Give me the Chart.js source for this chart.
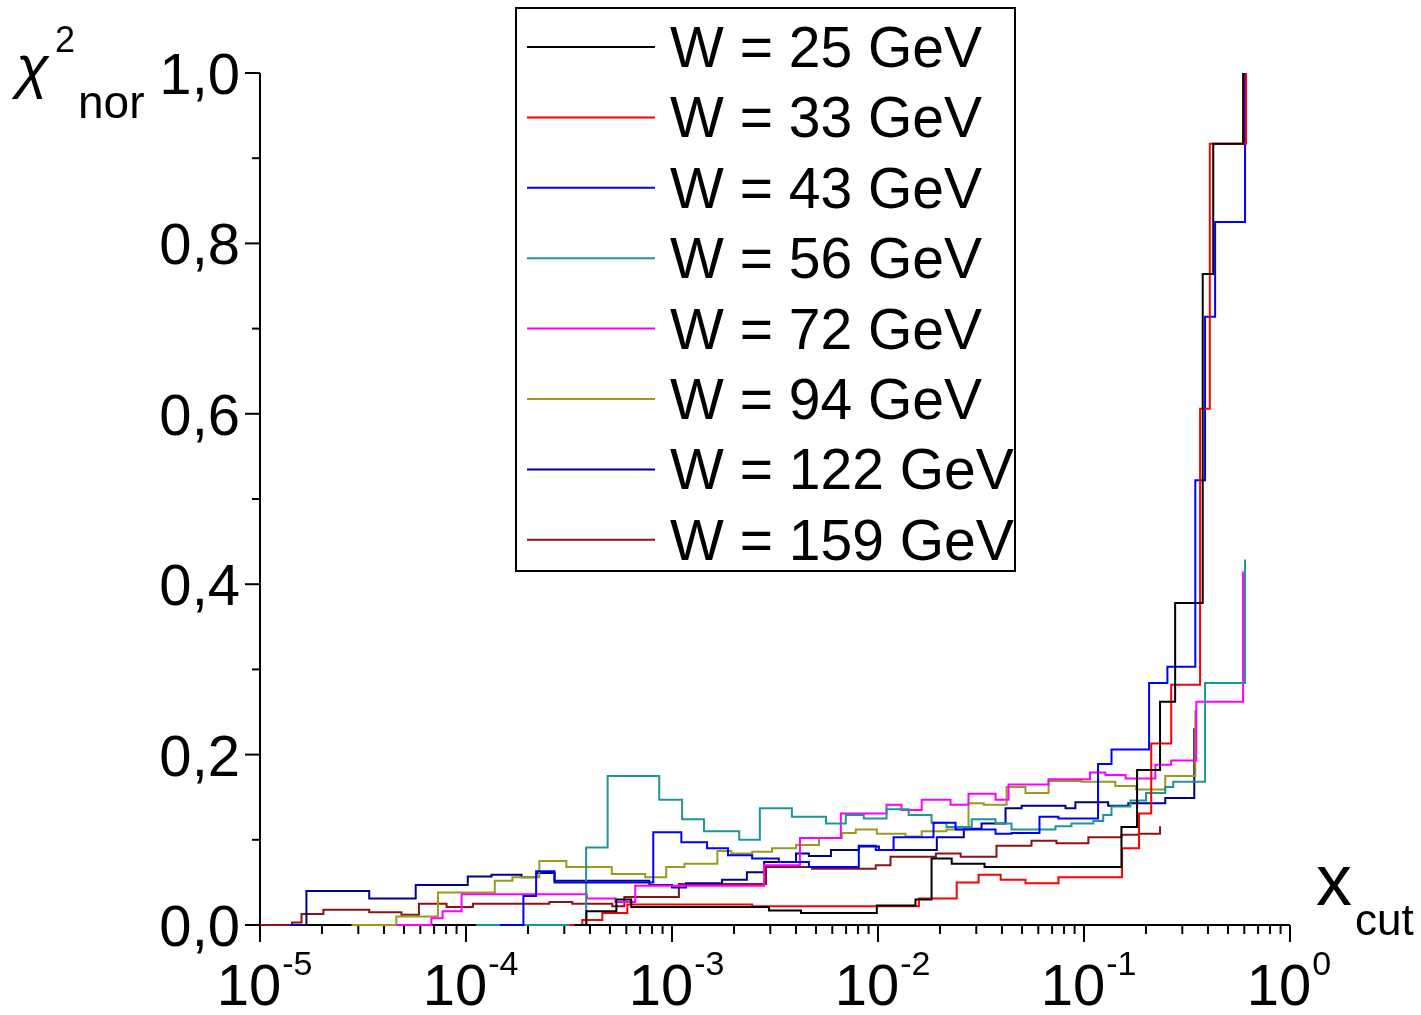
<!DOCTYPE html>
<html>
<head>
<meta charset="utf-8">
<script src="https://cdn.jsdelivr.net/npm/chart.js@4.4.1/dist/chart.umd.min.js"></script>
<style>
  html, body { margin: 0; padding: 0; background: #fff; }
  canvas { display: block; }
</style>
</head>
<body>
<canvas id="chart" width="1421" height="1015"></canvas>
<script>
// series labels + colours
const seriesLabels = ["W = 25 GeV", "W = 33 GeV", "W = 43 GeV", "W = 56 GeV",
                      "W = 72 GeV", "W = 94 GeV", "W = 122 GeV", "W = 159 GeV"];
const seriesColors = ["#000000", "#ff0000", "#0000ff", "#1f9696",
                      "#ff00ff", "#9a9a1c", "#000090", "#8a1414"];

// step data: x_cut = left edge of each step, chi2 = level of the step
const xcutW25 = [3.36e-4, 3.84e-4, 5.37e-4, 6.34e-4, 2.96e-3, 4.23e-3, 9.87e-3, 1.52e-2, 1.82e-2,
                 2.28e-2, 3.29e-2, 0.152, 0.181, 0.234, 0.277, 0.377, 0.424, 0.592];
const chiW25  = [0, 0.016, 0.030, 0.021, 0.017, 0.014, 0.023, 0.030, 0.078,
                 0.072, 0.068, 0.115, 0.182, 0.262, 0.378, 0.764, 0.917, 1.0];

const xcutW33 = [3.18e-4, 3.67e-4, 4.59e-4, 6.07e-4, 2.45e-3, 1.58e-2, 2.41e-2, 3.08e-2, 3.94e-2,
                 5.20e-2, 7.52e-2, 0.153, 0.185, 0.212, 0.265, 0.366, 0.408, 0.612];
const chiW33  = [0, 0.006, 0.014, 0.024, 0.022, 0.031, 0.050, 0.059, 0.053,
                 0.049, 0.056, 0.090, 0.131, 0.213, 0.282, 0.606, 0.917, 1.0];

const xcutW43 = [1.46e-4, 1.90e-4, 2.19e-4, 2.69e-4, 8.11e-4, 1.11e-3, 1.48e-3, 1.87e-3, 2.45e-3,
                 3.30e-3, 4.62e-3, 8.07e-3, 9.75e-3, 1.19e-2, 1.86e-2, 2.38e-2, 3.72e-2, 4.45e-2,
                 6.08e-2, 7.52e-2, 0.117, 0.136, 0.207, 0.254, 0.347, 0.387, 0.433, 0.605];
const chiW43  = [0, 0.034, 0.063, 0.050, 0.109, 0.097, 0.090, 0.082, 0.078,
                 0.074, 0.068, 0.093, 0.088, 0.103, 0.120, 0.112, 0.107, 0.108,
                 0.127, 0.125, 0.189, 0.206, 0.284, 0.303, 0.522, 0.714, 0.825, 1.0];

const xcutW56 = [1.12e-4, 3.83e-4, 4.87e-4, 8.67e-4, 1.12e-3, 1.43e-3, 2.12e-3, 2.67e-3, 3.82e-3,
                 5.59e-3, 6.98e-3, 8.53e-3, 1.10e-2, 1.41e-2, 1.82e-2, 2.15e-2, 2.85e-2, 3.72e-2,
                 4.45e-2, 7.27e-2, 8.69e-2, 0.111, 0.124, 0.136, 0.168, 0.200, 0.248, 0.271,
                 0.387, 0.605];
const chiW56  = [0, 0.091, 0.175, 0.147, 0.124, 0.110, 0.100, 0.137, 0.127,
                 0.119, 0.129, 0.125, 0.136, 0.129, 0.120, 0.115, 0.124, 0.119,
                 0.112, 0.116, 0.119, 0.122, 0.129, 0.139, 0.146, 0.155, 0.162, 0.168,
                 0.284, 0.429];

const xcutW72 = [4.59e-5, 6.79e-5, 7.70e-5, 9.52e-5, 3.86e-4, 5.31e-4, 6.63e-4, 2.80e-3, 4.18e-3,
                 6.60e-3, 1.10e-2, 1.30e-2, 1.63e-2, 2.25e-2, 2.75e-2, 3.72e-2, 4.30e-2, 6.73e-2,
                 0.107, 0.127, 0.159, 0.222, 0.265, 0.351, 0.592];
const chiW72  = [0, 0.008, 0.016, 0.036, 0.031, 0.027, 0.046, 0.070, 0.102,
                 0.131, 0.141, 0.135, 0.147, 0.141, 0.154, 0.147, 0.165, 0.171,
                 0.179, 0.176, 0.172, 0.188, 0.193, 0.262, 0.415];

const xcutW94 = [2.78e-5, 4.59e-5, 7.31e-5, 1.38e-4, 1.68e-4, 2.27e-4, 3.07e-4, 5.10e-4, 7.41e-4,
                 9.37e-4, 1.15e-3, 1.66e-3, 1.94e-3, 2.45e-3, 3.06e-3, 4.00e-3, 5.17e-3, 6.68e-3,
                 7.80e-3, 9.87e-3, 1.36e-2, 1.63e-2, 2.15e-2, 2.75e-2, 3.26e-2, 4.21e-2, 5.20e-2,
                 6.73e-2, 9.71e-2, 0.142, 0.179, 0.248, 0.347];
const chiW94  = [0, 0.010, 0.038, 0.052, 0.056, 0.075, 0.068, 0.060, 0.056,
                 0.068, 0.072, 0.087, 0.084, 0.086, 0.090, 0.094, 0.102, 0.108,
                 0.112, 0.107, 0.104, 0.110, 0.112, 0.143, 0.141, 0.162, 0.155,
                 0.169, 0.168, 0.163, 0.159, 0.175, 0.252];

const xcutW122 = [1.40e-5, 1.68e-5, 3.39e-5, 5.70e-5, 1.02e-4, 1.33e-4, 1.86e-4, 2.20e-4, 2.69e-4,
                  7.76e-4, 1.00e-3, 1.17e-3, 1.75e-3, 2.31e-3, 2.80e-3, 4.00e-3, 4.62e-3, 5.91e-3,
                  8.07e-3, 1.01e-2, 1.93e-2, 2.61e-2, 3.18e-2, 4.16e-2, 4.98e-2, 8.13e-2, 9.08e-2,
                  0.131, 0.164, 0.248, 0.343];
const chiW122  = [0, 0.040, 0.031, 0.047, 0.057, 0.059, 0.056, 0.061, 0.052,
                  0.047, 0.044, 0.049, 0.053, 0.062, 0.074, 0.084, 0.081, 0.088,
                  0.092, 0.088, 0.103, 0.113, 0.119, 0.137, 0.140, 0.137, 0.144,
                  0.140, 0.143, 0.149, 0.231];

const xcutW159 = [1.0e-5, 1.43e-5, 1.59e-5, 2.03e-5, 3.39e-5, 4.86e-5, 5.91e-5, 8.05e-5, 1.08e-4,
                  2.54e-4, 3.28e-4, 5.13e-4, 5.87e-4, 1.08e-3, 2.86e-3, 4.78e-3, 9.75e-3, 1.15e-2,
                  1.91e-2, 2.52e-2, 3.76e-2, 5.56e-2, 7.35e-2, 0.105, 0.152, 0.184, 0.234];
const chiW159  = [0, 0.003, 0.013, 0.018, 0.015, 0.012, 0.025, 0.021, 0.025,
                  0.027, 0.025, 0.022, 0.033, 0.048, 0.068, 0.066, 0.070, 0.080,
                  0.084, 0.080, 0.093, 0.099, 0.096, 0.103, 0.106, 0.107, 0.116];

// axis ticks
const xDecades = [-5, -4, -3, -2, -1, 0];
const yTicks = [0, 0.1, 0.2, 0.3, 0.4, 0.5, 0.6, 0.7, 0.8, 0.9, 1.0];
const yLabels = [0, 0.2, 0.4, 0.6, 0.8, 1.0];

const xcutAll = [xcutW25, xcutW33, xcutW43, xcutW56, xcutW72, xcutW94, xcutW122, xcutW159];
const chiAll = [chiW25, chiW33, chiW43, chiW56, chiW72, chiW94, chiW122, chiW159];

const FONT = '"Liberation Sans", Arial, sans-serif';

// level holds from its x_cut to the next one, so the line goes across then up
const datasets = seriesLabels.map((label, i) => ({
  label: label,
  data: xcutAll[i].map((x, j) => ({ x: x, y: chiAll[i][j] })),
  borderColor: seriesColors[i],
  backgroundColor: seriesColors[i],
  borderWidth: 2,
  pointRadius: 0,
  stepped: "before",
  fill: false,
  clip: 6
}));

// axes, ticks and tick labels
const axesPlugin = {
  id: "axes",
  beforeDatasetsDraw(chart) {
    const ctx = chart.ctx;
    const ca = chart.chartArea;
    const xs = chart.scales.x, ys = chart.scales.y;
    ctx.save();
    ctx.strokeStyle = "#000";
    ctx.lineWidth = 2;
    ctx.beginPath();
    ctx.moveTo(ca.left, ca.top);
    ctx.lineTo(ca.left, ca.bottom);
    ctx.lineTo(ca.right, ca.bottom);
    ctx.stroke();

    // y ticks
    yTicks.forEach((v, i) => {
      const p = ys.getPixelForValue(v);
      const len = i % 2 === 0 ? 15 : 8;
      ctx.beginPath();
      ctx.moveTo(ca.left - len, p);
      ctx.lineTo(ca.left, p);
      ctx.stroke();
    });
    // x ticks
    xDecades.forEach(d => {
      for (let m = 1; m <= 9; m++) {
        if (d === 0 && m > 1) break;
        const p = xs.getPixelForValue(m * Math.pow(10, d));
        const len = m === 1 ? 17 : 9;
        ctx.beginPath();
        ctx.moveTo(p, ca.bottom);
        ctx.lineTo(p, ca.bottom + len);
        ctx.stroke();
      }
    });

    ctx.fillStyle = "#000";
    ctx.font = "58px " + FONT;
    ctx.textAlign = "right";
    ctx.textBaseline = "alphabetic";
    yLabels.forEach(v => {
      const p = ys.getPixelForValue(v);
      ctx.fillText(v.toFixed(1).replace(".", ","), ca.left - 20, p + 21);
    });

    ctx.textAlign = "left";
    xDecades.forEach(d => {
      const p = xs.getPixelForValue(Math.pow(10, d));
      ctx.font = "58px " + FONT;
      const w10 = ctx.measureText("10").width;
      const x0 = p - 11 - w10 / 2;
      ctx.fillText("10", x0, 1005);
      ctx.font = "34px " + FONT;
      ctx.fillText(d < 0 ? "-" + (-d) : String(d), x0 + w10 + 1, 975);
    });
    ctx.restore();
  },
  afterDraw(chart) {
    const ctx = chart.ctx;
    ctx.save();
    ctx.fillStyle = "#000";
    ctx.textAlign = "left";
    ctx.textBaseline = "alphabetic";
    // y title
    ctx.font = "italic 60px " + FONT;
    ctx.fillText("\u03c7", 16, 87);
    ctx.font = "36px " + FONT;
    ctx.fillText("2", 55, 52);
    ctx.font = "46px " + FONT;
    ctx.fillText("nor", 78, 118);
    // x title
    ctx.font = "72px " + FONT;
    ctx.fillText("x", 1316, 905);
    ctx.font = "44px " + FONT;
    ctx.fillText("cut", 1355, 935);

    // legend box
    ctx.fillStyle = "#fff";
    ctx.fillRect(516, 8, 499, 563);
    ctx.strokeStyle = "#000";
    ctx.lineWidth = 2;
    ctx.strokeRect(516, 8, 499, 563);
    chart.data.datasets.forEach((ds, i) => {
      const y = 47 + i * 70.4;
      ctx.strokeStyle = ds.borderColor;
      ctx.lineWidth = 2;
      ctx.beginPath();
      ctx.moveTo(527, y);
      ctx.lineTo(655, y);
      ctx.stroke();
      ctx.fillStyle = "#000";
      ctx.font = "57px " + FONT;
      ctx.fillText(ds.label, 670, y + 20);
    });
    ctx.restore();
  }
};

new Chart(document.getElementById("chart").getContext("2d"), {
  type: "line",
  data: { datasets: datasets },
  options: {
    responsive: false,
    animation: false,
    devicePixelRatio: 1,
    layout: { padding: { left: 260, right: 131, top: 73, bottom: 90 } },
    plugins: { legend: { display: false }, tooltip: { enabled: false } },
    scales: {
      x: { type: "logarithmic", min: 1e-5, max: 1, display: false },
      y: { type: "linear", min: 0, max: 1, display: false }
    }
  },
  plugins: [axesPlugin]
});
</script>
</body>
</html>
